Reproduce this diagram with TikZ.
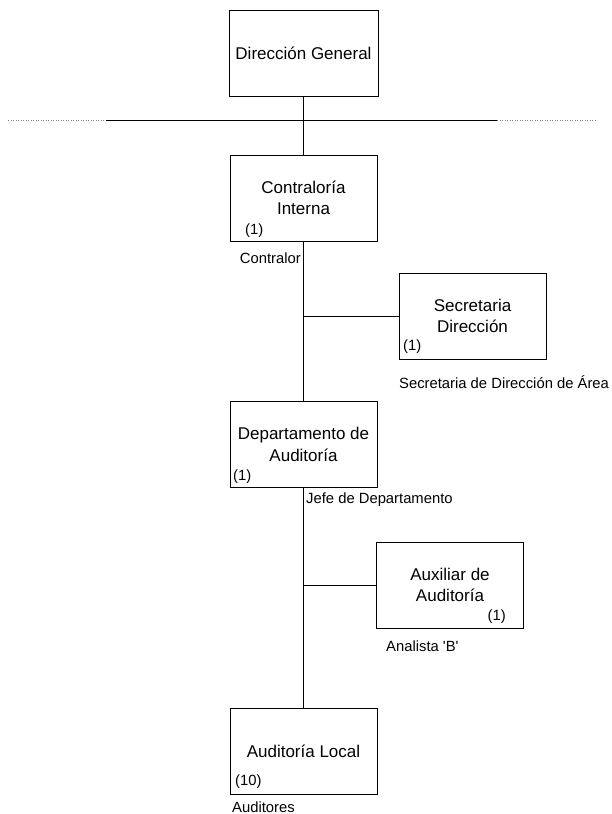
\documentclass[tikz,border=0pt]{standalone}
\usepackage{fontspec}
\setmainfont{Liberation Sans}
\usepackage{tikz}

\begin{document}
\begin{tikzpicture}[x=1pt, y=-1pt,
    unit/.style={draw, line width=0.9pt, minimum width=147pt, minimum height=86pt,
      align=center, inner sep=0pt, font=\fontsize{17}{21.5}\selectfont},
    note/.style={inner sep=0pt, font=\fontsize{14.8}{17}\selectfont},
    link/.style={line width=0.9pt}]
            \useasboundingbox (0,0) rectangle (612,814);

            % Define units
            \node[unit, minimum width=149pt] (DG) at (303.5,53.5) {Dirección General};
            \node[unit] (CI) at (303.5,198) {Contraloría\\Interna};
            \node[unit] (SD) at (472.5,316) {Secretaria\\Dirección};
            \node[unit] (DA) at (303.5,444.5) {Departamento de\\Auditoría};
            \node[unit] (AA) at (450,585) {Auxiliar de\\Auditoría};
            \node[unit] (AL) at (303.5,751.5) {Auditoría Local};

            % Define staff counts and positions
            \node[note, anchor=west] (nCI) at (245,231) {(1)};
            \node[note, anchor=west] (nSD) at (403,347) {(1)};
            \node[note, anchor=west] (nDA) at (233,477) {(1)};
            \node[note, anchor=east] (nAA) at (506,617) {(1)};
            \node[note, anchor=west] (nAL) at (235,782) {(10)};
            \node[note, anchor=east] (pCI) at (301,258) {Contralor};
            \node[note, anchor=west] (pSD) at (399,382) {Secretaria de Dirección de Área};
            \node[note, anchor=west] (pDA) at (306,500) {Jefe de Departamento};
            \node[note, anchor=west] (pAA) at (386,646) {Analista \textquotesingle B\textquotesingle};
            \node[note, anchor=west] (pAL) at (232,807) {Auditores};

            % Horizontal level line
            \coordinate (hl) at (8,120);
            \coordinate (hL) at (106,120);
            \coordinate (hR) at (497,120);
            \coordinate (hr) at (597,120);
            \draw[dotted, gray, line width=0.5pt] (hl) -- (hL);
            \draw[link] (hL) -- (hR);
            \draw[dotted, gray, line width=0.5pt] (hR) -- (hr);

            % Draw connectors
            \draw[link] (DG.south) -- (CI.north);
            \draw[link] (CI.south) -- (DA.north);
            \draw[link] (DA.south) -- (AL.north);
            \draw[link] (SD.west) -- (SD.west -| CI.south);
            \draw[link] (AA.west) -- (AA.west -| DA.south);
        \end{tikzpicture}
\end{document}
